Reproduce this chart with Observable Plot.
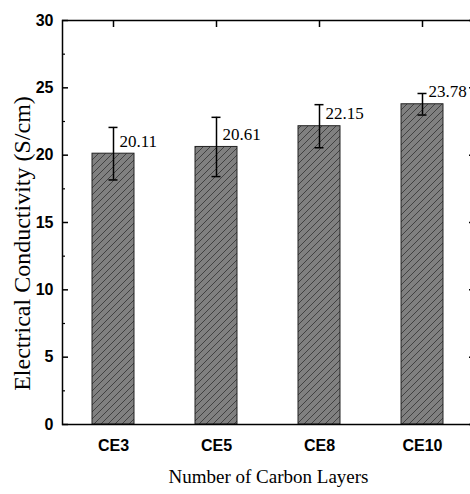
<!DOCTYPE html>
<html>
<head>
<meta charset="utf-8">
<script src="https://cdn.jsdelivr.net/npm/d3@7"></script>
<script src="https://cdn.jsdelivr.net/npm/@observablehq/plot@0.6"></script>
<style>
  html, body { margin: 0; padding: 0; background: white; }
  #chart { width: 470px; height: 494px; overflow: hidden; }
</style>
</head>
<body>
<div id="chart"></div>
<script>
const categories = ["CE3", "CE5", "CE8", "CE10"];
const conductivity = [20.11, 20.61, 22.15, 23.78];
const errors = [1.95, 2.2, 1.6, 0.8];
const yTicks = [0, 5, 10, 15, 20, 25, 30];
const yMinorTicks = [2.5, 7.5, 12.5, 17.5, 22.5, 27.5];
const xLabel = "Number of Carbon Layers";
const yLabel = "Electrical Conductivity (S/cm)";

const rows = categories.map((c, i) => ({cat: c, v: conductivity[i], e: errors[i]}));

const sans = "Liberation Sans, Arial, sans-serif";
const serif = "Liberation Serif, Times New Roman, serif";

const chart = Plot.plot({
  width: 470,
  height: 494,
  marginLeft: 62,
  marginRight: -4,
  marginTop: 20,
  marginBottom: 70,
  style: {background: "white", fontFamily: sans, overflow: "hidden"},
  x: {type: "band", domain: categories, paddingInner: 0.59, paddingOuter: 0.295, label: null},
  y: {domain: [0, 30], label: null},
  marks: [
    Plot.barY(rows, {x: "cat", y: "v", fill: "url(#hatch)", stroke: "#222", strokeWidth: 1}),
    Plot.ruleX(rows, {x: "cat", y1: d => d.v - d.e, y2: d => d.v + d.e, stroke: "black", strokeWidth: 1.5}),
    Plot.tickY(rows, {x: "cat", y: d => d.v + d.e, inset: 16.5, stroke: "black", strokeWidth: 1.5}),
    Plot.tickY(rows, {x: "cat", y: d => d.v - d.e, inset: 16.5, stroke: "black", strokeWidth: 1.5}),
    Plot.text(rows, {x: "cat", y: "v", text: d => d.v.toFixed(2), dx: 6, dy: -7, textAnchor: "start", lineAnchor: "bottom", fontFamily: serif, fontSize: 17, fill: "black"}),
    // left axis
    Plot.axisY({anchor: "left", ticks: yTicks, tickSize: -6, fill: "none", label: null, strokeWidth: 1.5}),
    Plot.axisY({anchor: "left", ticks: yMinorTicks, tickSize: -3, fill: "none", label: null, strokeWidth: 1.2}),
    Plot.axisY({anchor: "left", ticks: yTicks, tickSize: 0, tickPadding: 9, label: null, fontWeight: "bold", fontSize: 16, fill: "black"}),
    // right axis
    Plot.axisY({anchor: "right", ticks: yTicks, tickSize: -6, fill: "none", label: null, strokeWidth: 1.5}),
    Plot.axisY({anchor: "right", ticks: yMinorTicks, tickSize: -3, fill: "none", label: null, strokeWidth: 1.2}),
    // top axis ticks
    Plot.axisX({anchor: "top", tickSize: -6, fill: "none", label: null, strokeWidth: 1.5}),
    // bottom axis labels
    Plot.axisX({anchor: "bottom", tickSize: 0, tickPadding: 15, label: null, fontWeight: "bold", fontSize: 16, fill: "black"}),
    Plot.frame({stroke: "black", strokeWidth: 1.5}),
    Plot.text([xLabel], {frameAnchor: "bottom", dy: 58, lineAnchor: "bottom", fontFamily: serif, fontSize: 19, fill: "black"}),
    Plot.text([yLabel], {frameAnchor: "left", textAnchor: "middle", rotate: -90, dx: -40, dy: 21, fontFamily: serif, fontSize: 24, fill: "black"})
  ]
});

// hatch pattern
const ns = "http://www.w3.org/2000/svg";
const defs = document.createElementNS(ns, "defs");
const pat = document.createElementNS(ns, "pattern");
pat.setAttribute("id", "hatch");
pat.setAttribute("patternUnits", "userSpaceOnUse");
pat.setAttribute("width", "7");
pat.setAttribute("height", "7");
const bg = document.createElementNS(ns, "rect");
bg.setAttribute("width", "7");
bg.setAttribute("height", "7");
bg.setAttribute("fill", "#808080");
const hp = document.createElementNS(ns, "path");
hp.setAttribute("d", "M-1,1 l2,-2 M0,7 l7,-7 M6,8 l2,-2");
hp.setAttribute("stroke", "#3a3a3a");
hp.setAttribute("stroke-width", "0.9");
pat.appendChild(bg);
pat.appendChild(hp);
defs.appendChild(pat);
chart.insertBefore(defs, chart.firstChild);

document.getElementById("chart").appendChild(chart);
</script>
</body>
</html>
